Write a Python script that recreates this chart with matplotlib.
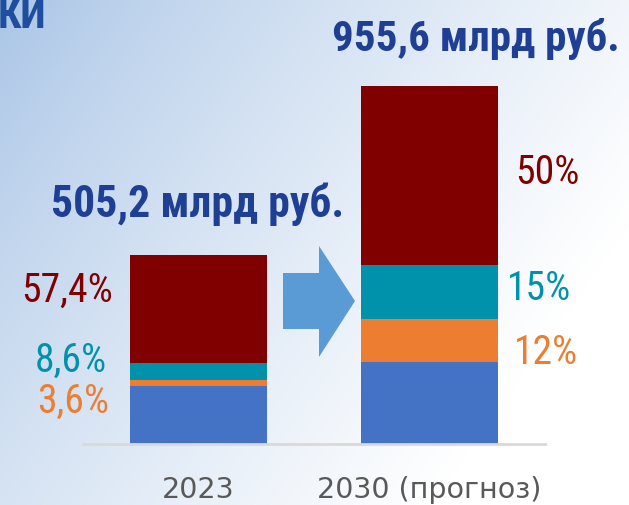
import matplotlib.pyplot as plt
import numpy as np
from matplotlib import font_manager
from matplotlib.patches import Polygon

# data
years = ["2023", "2030 (прогноз)"]
totals = [505.2, 955.6]  # млрд руб.
# shares, bottom to top: blue, orange, teal, dark red
share_blue = [30.4, 23.0]
share_orange = [3.6, 12.0]
share_teal = [8.6, 15.0]
share_red = [57.4, 50.0]
total_labels = ["505,2 млрд руб.", "955,6 млрд руб."]
left_labels = ["57,4%", "8,6%", "3,6%"]
right_labels = ["50%", "15%", "12%"]

colors = ["#4472C4", "#ED7D31", "#0092AA", "#800000"]
title_color = "#1F3F94"

W, H = 629, 505
fig = plt.figure(figsize=(W / 100, H / 100), dpi=100)


def fx(px):
    return px / W


def fy(py):
    return 1 - py / H


# pick a narrow font if one is around
names = {f.name for f in font_manager.fontManager.ttflist}
narrow = "DejaVu Sans"
for cand in ["Liberation Sans Narrow", "Roboto Condensed", "DejaVu Sans Condensed"]:
    if cand in names:
        narrow = cand
        break

# gradient background
bg = fig.add_axes([0, 0, 1, 1])
gx, gy = np.meshgrid(np.linspace(0, 1, 300), np.linspace(0, 1, 240))
t = np.clip(0.8 * gx + 0.45 * gy, 0, 1) ** 0.8
c0 = np.array([168, 196, 230]) / 255
grad = c0 + (1 - c0) * t[..., None]
bg.imshow(grad, extent=[0, 1, 1, 0], aspect="auto")
bg.set_xlim(0, 1)
bg.set_ylim(1, 0)
bg.axis("off")

# bars
ax_l, ax_r = 83, 545
ax_b, ax_t = 444, 32
ax = fig.add_axes([fx(ax_l), fy(ax_b), (ax_r - ax_l) / W, (ax_b - ax_t) / H])
ax.patch.set_alpha(0)
x = np.arange(len(years))
bottom = np.zeros(len(years))
for shares, col in zip([share_blue, share_orange, share_teal, share_red], colors):
    vals = np.array(totals) * np.array(shares) / 100
    ax.bar(x, vals, width=0.594, bottom=bottom, color=col, linewidth=0)
    bottom += vals

ax.set_xlim(-0.5, 1.5)
ax.set_ylim(0, (ax_b - ax_t) / 358 * totals[1])
for s in ["top", "right", "left"]:
    ax.spines[s].set_visible(False)
ax.spines["bottom"].set_color("#D9D9D9")
ax.spines["bottom"].set_linewidth(2)
ax.set_yticks([])
ax.set_xticks(x, years)
ax.tick_params(axis="x", length=0, pad=23, labelsize=20.5, labelcolor="#595959")

# arrow
arrow_px = [(283, 273), (319, 273), (319, 246), (355, 301), (319, 357), (319, 329), (283, 329)]
fig.patches.append(Polygon([(fx(a), fy(b)) for a, b in arrow_px], closed=True,
                           facecolor="#5B9BD5", edgecolor="none", transform=fig.transFigure))

# totals
fig.text(fx(198), fy(204), total_labels[0], ha="center", va="center", fontsize=31.5,
         fontweight="bold", color=title_color, family=narrow)
fig.text(fx(476), fy(39), total_labels[1], ha="center", va="center", fontsize=31,
         fontweight="bold", color=title_color, family=narrow)

# cut-off heading in the corner
fig.text(fx(-2), fy(28), "КИ", ha="left", va="baseline", fontsize=30,
         fontweight="bold", color="#1F4E9F", family=narrow)

# share labels
for lab, xp, yp, col in zip(left_labels, [113, 107, 109], [290, 360, 401],
                            [colors[3], colors[2], colors[1]]):
    fig.text(fx(xp), fy(yp), lab, ha="right", va="center", fontsize=28.5,
             color=col, family=narrow)
for lab, xp, yp, col in zip(right_labels, [515, 507, 514], [172, 288, 353],
                            [colors[3], colors[2], colors[1]]):
    fig.text(fx(xp), fy(yp), lab, ha="left", va="center", fontsize=28.5,
             color=col, family=narrow)

fig.savefig("out.png", dpi=100)
